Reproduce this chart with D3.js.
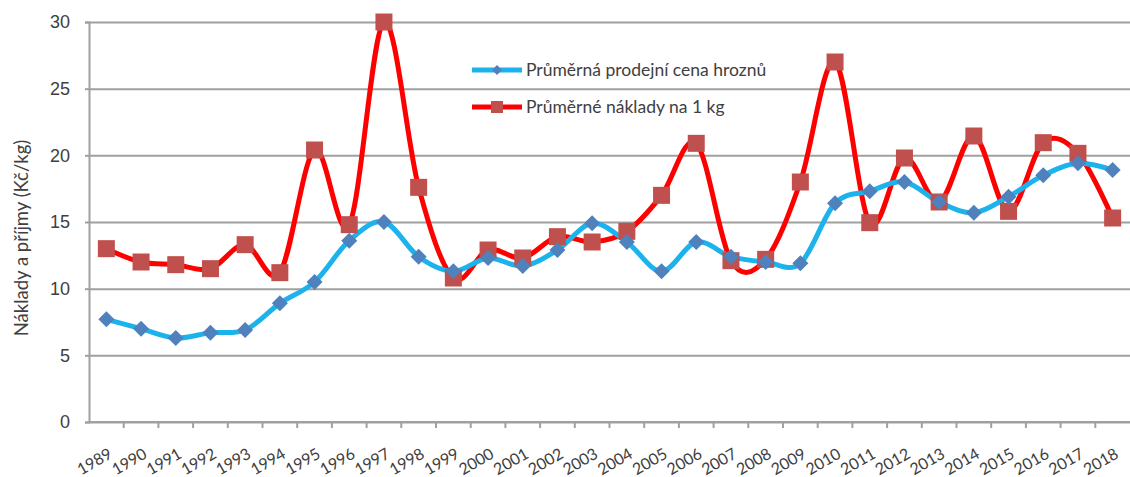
<!DOCTYPE html>
<html>
<head>
<meta charset="utf-8">
<script src="https://cdn.jsdelivr.net/npm/d3@7"></script>
<style>
  body { margin: 0; background: #fff; }
  svg { display: block; font-family: Lato, "Open Sans", sans-serif; }
  .grid line { stroke: #a0a0a0; stroke-width: 2; }
  .grid path { display: none; }
  .yaxis text, .xaxis text { fill: #404040; }
</style>
</head>
<body>
<svg id="body" width="1130" height="477"></svg>
<script>
let svg = d3.select("#body")

// data
let years = d3.range(1989, 2019).map(String)
let cena = [7.7, 7.0, 6.3, 6.7, 6.9, 8.9, 10.5, 13.6, 15.0, 12.4, 11.3, 12.3, 11.7, 12.9, 14.9,
	13.5, 11.3, 13.5, 12.4, 12.0, 11.9, 16.4, 17.3, 18.0, 16.5, 15.7, 16.9, 18.5, 19.4, 18.9]
let naklady = [13.0, 12.0, 11.8, 11.5, 13.3, 11.2, 20.4, 14.8, 30.0, 17.6, 10.8, 12.9, 12.3, 13.9, 13.5,
	14.3, 17.0, 20.9, 12.1, 12.2, 18.0, 27.0, 14.95, 19.8, 16.5, 21.45, 15.8, 20.95, 20.15, 15.3]
let yTicks = [0, 5, 10, 15, 20, 25, 30]
let seriesNames = ["Průměrná prodejní cena hroznů", "Průměrné náklady na 1 kg"]

//Set dimensions
let plotLeft = 89, plotRight = 1130, plotTop = 22, plotBottom = 422

let xscale = d3.scaleBand()
	.domain(years)
	.range([plotLeft, plotRight])

let yscale = d3.scaleLinear()
	.domain([0, 30])
	.range([plotBottom, plotTop])

let cx = y => xscale(y) + xscale.bandwidth() / 2

//gridlines
svg.append("g")
	.attr("class", "grid")
	.attr("transform", "translate(" + plotLeft + ",0)")
	.call(d3.axisLeft(yscale).tickValues(yTicks).tickSize(-(plotRight - plotLeft)).tickFormat(""))

//y axis
let yaxis = svg.append("g")
	.attr("class", "yaxis")
	.attr("transform", "translate(" + plotLeft + ",0)")
	.call(d3.axisLeft(yscale).tickValues(yTicks).tickSize(4).tickPadding(15))
yaxis.select(".domain").attr("stroke", "#a0a0a0").attr("stroke-width", 2)
yaxis.selectAll(".tick line").attr("stroke", "#a0a0a0").attr("stroke-width", 2)
yaxis.selectAll("text").style("font-size", "18px")

//x axis line and ticks between categories
svg.append("line")
	.attr("x1", plotLeft).attr("x2", plotRight)
	.attr("y1", plotBottom).attr("y2", plotBottom)
	.attr("stroke", "#a0a0a0").attr("stroke-width", 2)

svg.append("g").selectAll("line")
	.data(years.slice(1))
	.enter()
	.append("line")
	.attr("x1", d => xscale(d)).attr("x2", d => xscale(d))
	.attr("y1", plotBottom).attr("y2", plotBottom + 6)
	.attr("stroke", "#a0a0a0").attr("stroke-width", 2)

//x labels
svg.append("g")
	.attr("class", "xaxis")
	.selectAll("text")
	.data(years)
	.enter()
	.append("text")
	.attr("transform", d => "translate(" + (cx(d) + 7) + "," + (plotBottom + 35) + ") rotate(-30)")
	.attr("text-anchor", "end")
	.style("font-size", "16px")
	.text(d => d)

//y axis label
svg.append("text")
	.attr("transform", "translate(28, 238) rotate(-90)")
	.attr("text-anchor", "middle")
	.style("font-size", "18.5px")
	.attr("fill", "#404040")
	.text("Náklady a příjmy (Kč/kg)")

let curve = d3.curveCardinal.tension(0)

let valueLine = d3.line()
	.x((d, i) => cx(years[i]))
	.y(d => yscale(d))
	.curve(curve)

//lines
svg.append("path")
	.datum(naklady)
	.attr("d", valueLine)
	.attr("fill", "none")
	.attr("stroke", "#ff0000")
	.attr("stroke-width", 5)

svg.append("path")
	.datum(cena)
	.attr("d", valueLine)
	.attr("fill", "none")
	.attr("stroke", "#1cb2ec")
	.attr("stroke-width", 5)

//markers
let diamond = "M0,-8L8,0L0,8L-8,0Z"

svg.append("g").selectAll("rect")
	.data(naklady)
	.enter()
	.append("rect")
	.attr("x", (d, i) => cx(years[i]) - 8.5)
	.attr("y", d => yscale(d) - 8.5)
	.attr("width", 17).attr("height", 17)
	.attr("fill", "#c0504d")

svg.append("g").selectAll("path")
	.data(cena)
	.enter()
	.append("path")
	.attr("d", diamond)
	.attr("transform", (d, i) => "translate(" + cx(years[i]) + "," + yscale(d) + ")")
	.attr("fill", "#4f81bd")

//legend
let legend = svg.append("g").attr("transform", "translate(472, 70)")
let legendColors = [["#1cb2ec", "#4f81bd"], ["#ff0000", "#c0504d"]]

seriesNames.forEach((name, i) => {
	let g = legend.append("g").attr("transform", "translate(0," + (i * 37) + ")")
	g.append("line")
		.attr("x1", 0).attr("x2", 50)
		.attr("stroke", legendColors[i][0]).attr("stroke-width", 5)
	if (i === 0) {
		g.append("path").attr("d", "M0,-5L5,0L0,5L-5,0Z")
			.attr("transform", "translate(25,0)")
			.attr("fill", legendColors[i][1])
	} else {
		g.append("rect").attr("x", 19).attr("y", -6).attr("width", 12).attr("height", 12)
			.attr("fill", legendColors[i][1])
	}
	g.append("text")
		.attr("x", 54)
		.attr("dy", "0.35em")
		.style("font-size", "17.5px")
		.attr("fill", "#404040")
		.text(name)
})
</script>
</body>
</html>
